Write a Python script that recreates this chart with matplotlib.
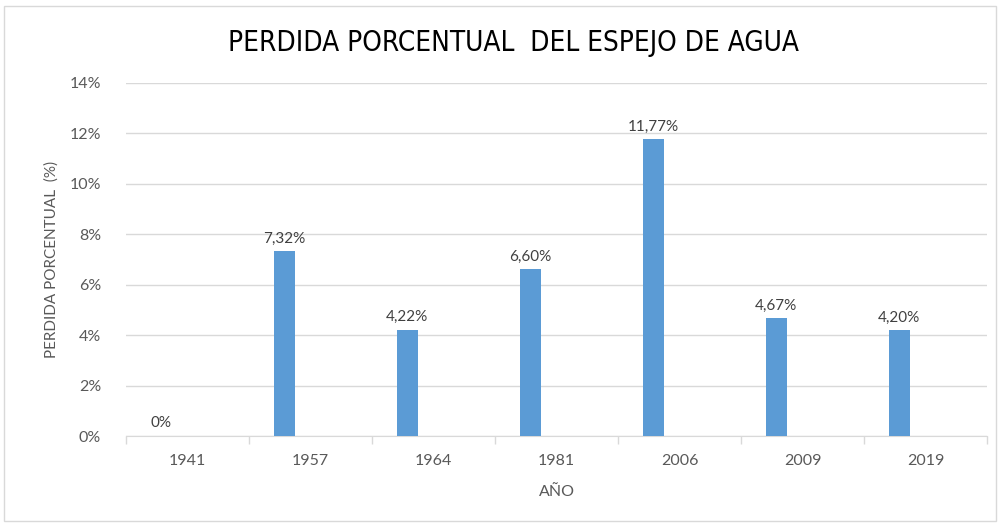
import matplotlib
matplotlib.use("Agg")
import matplotlib.pyplot as plt
from matplotlib import font_manager
import numpy as np
from matplotlib.ticker import FuncFormatter, FixedLocator
from matplotlib.patches import Rectangle

years = ["1941", "1957", "1964", "1981", "2006", "2009", "2019"]
perdida = [0.0, 7.32, 4.22, 6.60, 11.77, 4.67, 4.20]
labels = ["0%", "7,32%", "4,22%", "6,60%", "11,77%", "4,67%", "4,20%"]
yticks = [0, 2, 4, 6, 8, 10, 12, 14]

names = {f.name for f in font_manager.fontManager.ttflist}
base_font = "Lato" if "Lato" in names else "DejaVu Sans"
plt.rcParams['font.family'] = [base_font, 'DejaVu Sans']

gray = "#595959"
fig = plt.figure(figsize=(10, 5.25), dpi=100)
fig.patches.append(Rectangle((0.004, 0.008), 0.992, 0.98, transform=fig.transFigure,
                             fill=False, edgecolor="#D9D9D9", linewidth=1))
ax = fig.add_axes([0.126, 0.1695, 0.861, 0.673])

x = np.arange(len(years))
offset = -0.215
ax.bar(x + offset, perdida, width=0.17, color="#5B9BD5", zorder=3)
for xi, v, lab in zip(x, perdida, labels):
    ax.annotate(lab, (xi + offset, v), xytext=(0, 4), textcoords="offset points",
                ha="center", va="bottom", fontsize=11, color="#404040")

ax.set_xlim(-0.5, len(years) - 0.5)
ax.set_ylim(0, 14)
ax.set_yticks(yticks)
ax.yaxis.set_major_formatter(FuncFormatter(lambda v, p: f"{int(v)}%"))
ax.grid(axis="y", color="#D9D9D9", linewidth=1, zorder=0)
ax.set_xticks(x)
ax.set_xticklabels(years)
ax.xaxis.set_minor_locator(FixedLocator(np.arange(-0.5, len(years), 1.0)))
ax.tick_params(axis="x", which="major", length=0, pad=13, labelsize=11.5, labelcolor=gray)
ax.tick_params(axis="x", which="minor", length=6, color="#D9D9D9", width=1)
ax.tick_params(axis="y", length=0, pad=18, labelsize=11.5, labelcolor=gray)
for s in ["top", "right", "left"]:
    ax.spines[s].set_visible(False)
ax.spines["bottom"].set_color("#D9D9D9")

ax.set_xlabel("AÑO", fontsize=11.5, color=gray, labelpad=12)
ax.set_ylabel("PERDIDA PORCENTUAL  (%)", fontsize=11, color=gray, labelpad=8)
fig.text(0.513, 0.918, "PERDIDA PORCENTUAL  DEL ESPEJO DE AGUA", ha="center", va="center",
         fontsize=20, family=["DejaVu Sans"], fontstretch="condensed", color="black")

fig.savefig("out.png", dpi=100)
